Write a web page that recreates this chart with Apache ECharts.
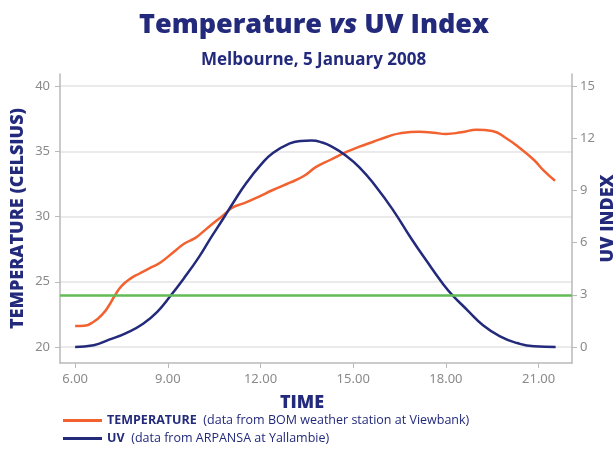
<!DOCTYPE html>
<html>
<head>
<meta charset="utf-8">
<script src="https://cdn.jsdelivr.net/npm/echarts@6/dist/echarts.min.js"></script>
<style>html,body{margin:0;padding:0;background:#fff}#c{width:615px;height:450px}</style>
</head>
<body>
<div id="c"></div>
<script>
// Temperature series (hour of day, degrees Celsius)
var tempHours = [6.0, 6.3, 6.6, 6.9, 7.1, 7.3, 7.5, 7.8, 8.1, 8.4, 8.75, 9.2, 9.55, 9.85, 10.05, 10.4, 10.8, 11.1, 11.45, 11.9, 12.4, 12.95, 13.4, 13.8, 14.25, 14.8, 15.2, 15.65, 16.1, 16.5, 17.15, 17.6, 18.0, 18.5, 19.0, 19.5, 19.95, 20.4, 20.85, 21.15, 21.53];
var tempValues = [21.6, 21.63, 21.94, 22.55, 23.2, 24.0, 24.67, 25.26, 25.65, 26.03, 26.46, 27.3, 27.95, 28.3, 28.65, 29.35, 30.1, 30.7, 31.0, 31.47, 32.03, 32.59, 33.1, 33.8, 34.33, 34.97, 35.35, 35.73, 36.11, 36.37, 36.5, 36.42, 36.33, 36.45, 36.65, 36.55, 36.0, 35.23, 34.33, 33.56, 32.74];
// UV index series
var uvHours = [6.0, 6.6, 7.1, 7.65, 8.2, 8.65, 9.1, 9.5, 10.0, 10.4, 10.8, 11.1, 11.55, 12.0, 12.4, 12.95, 13.3, 13.65, 14.0, 14.35, 14.7, 15.2, 15.75, 16.3, 16.85, 17.4, 17.9, 18.2, 18.7, 19.2, 19.75, 20.3, 20.85, 21.55];
var uvValues = [0, 0.1, 0.42, 0.8, 1.34, 2.01, 2.97, 3.9, 5.15, 6.3, 7.4, 8.25, 9.45, 10.45, 11.15, 11.7, 11.84, 11.87, 11.75, 11.47, 11.08, 10.33, 9.18, 7.84, 6.31, 4.88, 3.64, 3.0, 2.11, 1.25, 0.61, 0.23, 0.04, 0];
// Reference line (UV index 3 == 24 degrees on the left scale)
var refTemp = 24;
// Tick labels
var xTicks = [6, 9, 12, 15, 18, 21];
var tempTicks = [20, 25, 30, 35, 40];
var uvTicks = [0, 3, 6, 9, 12, 15];

var navy = '#232a7b';
var orange = '#f26230';
var green = '#62bb55';
var grey = '#8a8a8a';

function pairs(xs, ys) { return xs.map(function (x, i) { return [x, ys[i]]; }); }

var chart = echarts.init(document.getElementById('c'), null, {renderer: 'canvas'});
chart.setOption({
  animation: false,
  backgroundColor: '#fff',
  title: [{
    text: '{a|Temperature }{b|vs}{a| UV Index}',
    left: 134, top: 7,
    textStyle: {
      rich: {
        a: {fontFamily: 'Open Sans', fontWeight: 800, fontSize: 27, color: navy},
        b: {fontFamily: 'Open Sans', fontWeight: 800, fontStyle: 'italic', fontSize: 27, color: navy}
      }
    }
  }, {
    text: 'Melbourne, 5 January 2008',
    left: 196, top: 47,
    textStyle: {fontFamily: 'Open Sans', fontWeight: 'bold', fontSize: 17, color: navy}
  }],
  legend: {
    orient: 'vertical', left: 63, top: 414, itemGap: 5, padding: 0,
    itemWidth: 39, itemHeight: 3, icon: 'rect',
    data: ['TEMPERATURE', 'UV'],
    formatter: function (name) {
      if (name === 'TEMPERATURE') return '{b|TEMPERATURE}  {n|(data from BOM weather station at Viewbank)}';
      return '{b|UV}  {n|(data from ARPANSA at Yallambie)}';
    },
    textStyle: {
      rich: {
        b: {fontFamily: 'Open Sans', fontWeight: 'bold', fontSize: 12.5, color: navy, lineHeight: 15},
        n: {fontFamily: 'Open Sans', fontSize: 12.5, color: navy, lineHeight: 15}
      }
    }
  },
  grid: {left: 60, right: 43, top: 74, bottom: 87, containLabel: false, outerBoundsMode: 'none'},
  xAxis: {
    type: 'value', min: 5.51, max: 22.08,
    name: 'TIME', nameLocation: 'middle', nameGap: 31, nameMoveOverlap: false,
    nameTextStyle: {fontFamily: 'Open Sans', fontWeight: 800, fontSize: 18, color: navy, padding: [0, 28, 0, 0]},
    axisLine: {show: true, onZero: false, lineStyle: {color: '#b9b9b9', width: 1.5}},
    axisTick: {show: true, length: 5, customValues: xTicks, lineStyle: {color: '#b9b9b9'}},
    axisLabel: {customValues: xTicks, margin: 10, color: grey, fontFamily: 'Noto Sans', fontSize: 13,
      formatter: function (v) { return v.toFixed(2); }},
    splitLine: {show: false}
  },
  yAxis: [{
    type: 'value', position: 'left', min: 18.774, max: 40.92,
    name: 'TEMPERATURE (CELSIUS)', nameLocation: 'middle', nameGap: 33, nameMoveOverlap: false,
    nameTextStyle: {fontFamily: 'Open Sans', fontWeight: 800, fontSize: 18, color: navy},
    axisLine: {show: true, lineStyle: {color: '#b9b9b9', width: 1.5}},
    axisTick: {show: true, length: 5, customValues: tempTicks, lineStyle: {color: '#b9b9b9'}},
    axisLabel: {customValues: tempTicks, margin: 10, color: grey, fontFamily: 'Noto Sans', fontSize: 13},
    splitLine: {show: true, lineStyle: {color: '#e3e3e3', width: 1.5}}
  }, {
    type: 'value', position: 'right', min: -0.92, max: 15.69,
    name: 'UV INDEX', nameLocation: 'middle', nameGap: 27, nameRotate: 90, nameMoveOverlap: false,
    nameTextStyle: {fontFamily: 'Open Sans', fontWeight: 800, fontSize: 18, color: navy},
    axisLine: {show: true, lineStyle: {color: '#b9b9b9', width: 1.5}},
    axisTick: {show: true, length: 5, customValues: uvTicks, lineStyle: {color: '#b9b9b9'}},
    axisLabel: {customValues: uvTicks, margin: 8, color: grey, fontFamily: 'Noto Sans', fontSize: 13},
    splitLine: {show: false}
  }],
  series: [{
    name: 'TEMPERATURE', type: 'line', yAxisIndex: 0,
    data: pairs(tempHours, tempValues),
    smooth: 0.5, showSymbol: false, symbol: 'none',
    lineStyle: {color: orange, width: 2.5}, itemStyle: {color: orange},
    z: 3,
    markLine: {
      silent: true, symbol: 'none', label: {show: false},
      lineStyle: {color: green, width: 2.5, type: 'solid'},
      data: [{yAxis: refTemp}]
    }
  }, {
    name: 'UV', type: 'line', yAxisIndex: 1,
    data: pairs(uvHours, uvValues),
    smooth: 0.5, showSymbol: false, symbol: 'none',
    lineStyle: {color: navy, width: 2.5}, itemStyle: {color: navy},
    z: 4
  }]
});
</script>
</body>
</html>
